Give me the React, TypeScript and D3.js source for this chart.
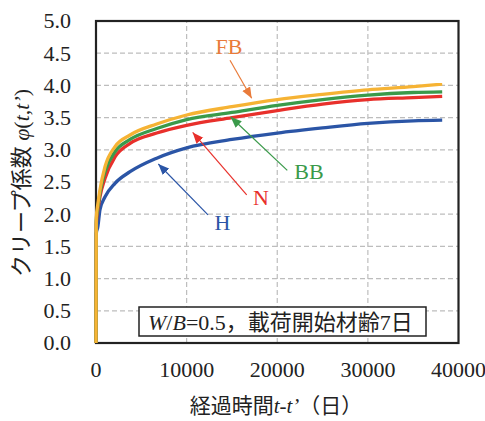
import React from "react";
import * as d3 from "d3";

const times = [0, 30, 200, 440, 1000, 2100, 3760, 6700, 10000, 15000, 20000, 25000, 30000, 35000, 38200];
const seriesFB = [0, 1.95, 2.15, 2.38, 2.74, 3.05, 3.23, 3.40, 3.54, 3.67, 3.78, 3.86, 3.93, 3.98, 4.02];
const seriesBB = [0, 1.9, 2.1, 2.33, 2.66, 2.97, 3.16, 3.33, 3.47, 3.58, 3.69, 3.78, 3.85, 3.89, 3.90];
const seriesN = [0, 1.85, 2.05, 2.27, 2.56, 2.89, 3.10, 3.26, 3.38, 3.50, 3.61, 3.71, 3.78, 3.81, 3.83];
const seriesH = [0, 1.7, 1.8, 2.07, 2.27, 2.48, 2.66, 2.87, 3.03, 3.16, 3.26, 3.34, 3.41, 3.45, 3.46];

const xTicks = [0, 10000, 20000, 30000, 40000];
const yTicks = [0, 0.5, 1, 1.5, 2, 2.5, 3, 3.5, 4, 4.5, 5];

const seriesNames = ["H", "N", "BB", "FB"];
const seriesColors = ["#2b55a6", "#e8302b", "#3a9a4a", "#f6b334"];
const labelColors = ["#2b55a6", "#e8302b", "#3a9a4a", "#e97b3a"];
// label anchor [t, value], arrow tail [t, value], arrow tip [t, value]
const labelPos = [[13959, 1.87], [18207, 2.27], [23503, 2.67], [14676, 4.61]];
const arrowTail = [[12359, 1.99], [16629, 2.30], [21109, 2.68], [14786, 4.39]];
const arrowTip = [[6874, 2.78], [10670, 3.27], [14864, 3.51], [17180, 3.80]];

const SERIF = "Liberation Serif, DejaVu Serif, Noto Sans CJK JP, serif";
const st = { fontFamily: SERIF };

export default function App() {
  const x = d3.scaleLinear().domain([0, 40000]).range([96, 458.5]);
  const y = d3.scaleLinear().domain([0, 5]).range([343, 21]);
  const allSeries = [seriesH, seriesN, seriesBB, seriesFB];
  const line = d3
    .line<number>()
    .x((_, i) => x(times[i]))
    .y((d) => y(d))
    .curve(d3.curveMonotoneX);

  return (
    <svg
      width={485}
      height={421}
      style={{ position: "absolute", left: 0, top: 0, background: "#fff" }}
    >
      <defs>
        {labelColors.map((c, i) => (
          <marker
            key={i}
            id={`ah${i}`}
            markerUnits="userSpaceOnUse"
            markerWidth={12}
            markerHeight={10}
            refX={11}
            refY={4.5}
            orient="auto"
          >
            <path d="M0,0 L11,4.5 L0,9 Z" fill={c} />
          </marker>
        ))}
      </defs>
      <rect x={0} y={0} width={485} height={421} fill="#fff" />
      {yTicks.slice(1, -1).map((t) => (
        <line
          key={"gy" + t}
          x1={x(0)}
          x2={x(40000)}
          y1={y(t)}
          y2={y(t)}
          stroke="#bdbdbd"
          strokeWidth={1.2}
          strokeDasharray="5,3"
        />
      ))}
      {xTicks.slice(1, -1).map((t) => (
        <line
          key={"gx" + t}
          x1={x(t)}
          x2={x(t)}
          y1={y(0)}
          y2={y(5)}
          stroke="#bdbdbd"
          strokeWidth={1.2}
          strokeDasharray="5,3"
        />
      ))}
      <rect
        x={x(0)}
        y={y(5)}
        width={x(40000) - x(0)}
        height={y(0) - y(5)}
        fill="none"
        stroke="#222"
        strokeWidth={2.2}
      />
      {yTicks.map((t) => (
        <text
          key={"ty" + t}
          x={71}
          y={y(t)}
          dy="0.34em"
          textAnchor="end"
          fontSize={22}
          fill="#222"
          style={st}
        >
          {t.toFixed(1)}
        </text>
      ))}
      {xTicks.map((t) => (
        <text
          key={"tx" + t}
          x={x(t)}
          y={377}
          textAnchor="middle"
          fontSize={22}
          fill="#222"
          style={st}
        >
          {t}
        </text>
      ))}
      {allSeries.map((s, i) => (
        <path
          key={seriesNames[i]}
          d={line(s) || ""}
          fill="none"
          stroke={seriesColors[i]}
          strokeWidth={3.3}
          strokeLinejoin="round"
        />
      ))}
      {seriesNames.map((n, i) => (
        <g key={"a" + n}>
          <line
            x1={x(arrowTail[i][0])}
            y1={y(arrowTail[i][1])}
            x2={x(arrowTip[i][0])}
            y2={y(arrowTip[i][1])}
            stroke={labelColors[i]}
            strokeWidth={1.2}
            markerEnd={`url(#ah${i})`}
          />
          <text
            x={x(labelPos[i][0])}
            y={y(labelPos[i][1])}
            dy="0.35em"
            textAnchor="middle"
            fontSize={22}
            fill={labelColors[i]}
            style={st}
          >
            {n}
          </text>
        </g>
      ))}
      <rect x={139} y={307} width={287} height={29} fill="#fff" stroke="#222" strokeWidth={1.5} />
      <text x={148} y={330} fontSize={22} fill="#222" style={st}>
        <tspan fontStyle="italic">W</tspan>
        <tspan>/</tspan>
        <tspan fontStyle="italic">B</tspan>
        <tspan>=0.5，載荷開始材齢7日</tspan>
      </text>
      <text x={276} y={413} textAnchor="middle" fontSize={21} fill="#222" style={st}>
        <tspan>経過時間</tspan>
        <tspan fontStyle="italic">t-t’</tspan>
        <tspan>（日）</tspan>
      </text>
      <text
        transform="translate(29,183) rotate(-90)"
        textAnchor="middle"
        fontSize={22}
        fill="#222"
        style={st}
      >
        <tspan>クリープ係数 </tspan>
        <tspan fontStyle="italic">φ</tspan>
        <tspan>(</tspan>
        <tspan fontStyle="italic">t</tspan>
        <tspan>,</tspan>
        <tspan fontStyle="italic">t’</tspan>
        <tspan>)</tspan>
      </text>
    </svg>
  );
}
